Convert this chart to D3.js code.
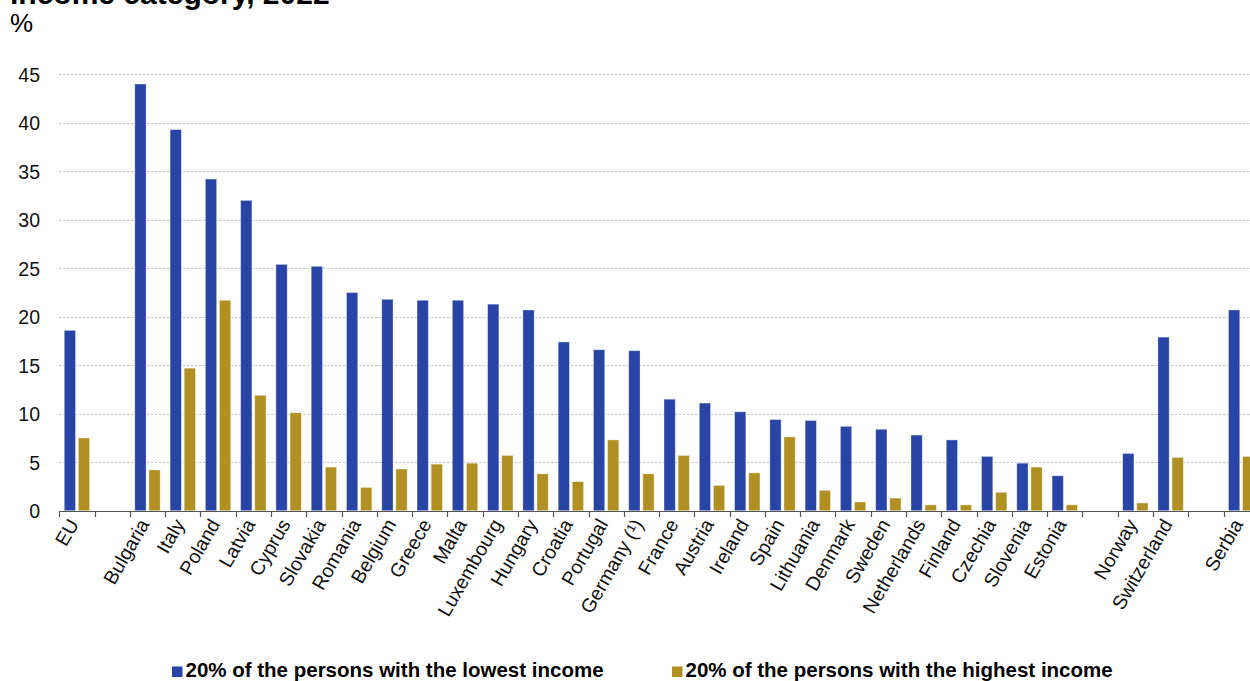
<!DOCTYPE html>
<html>
<head>
<meta charset="utf-8">
<script src="https://cdn.jsdelivr.net/npm/d3@7"></script>
<style>
  html, body { margin: 0; padding: 0; background: #fff; }
  svg { display: block; font-family: "Liberation Sans", Arial, sans-serif; }
</style>
</head>
<body>
<svg id="chart" width="1250" height="681"></svg>
<script>
// Country slots along the x axis; empty strings are spacer slots between groups.
const countries = ["EU", "", "Bulgaria", "Italy", "Poland", "Latvia", "Cyprus", "Slovakia",
  "Romania", "Belgium", "Greece", "Malta", "Luxembourg", "Hungary", "Croatia", "Portugal",
  "Germany (¹)", "France", "Austria", "Ireland", "Spain", "Lithuania", "Denmark", "Sweden",
  "Netherlands", "Finland", "Czechia", "Slovenia", "Estonia", "", "Norway", "Switzerland", "", "Serbia"];

// Share (%) for the lowest income quintile
const lowestIncome = [18.6, null, 44.0, 39.3, 34.2, 32.0, 25.4, 25.2, 22.5, 21.8, 21.7, 21.7,
  21.3, 20.7, 17.4, 16.6, 16.5, 11.5, 11.1, 10.2, 9.4, 9.3, 8.7, 8.4, 7.8, 7.3, 5.6, 4.9, 3.6,
  null, 5.9, 17.9, null, 20.7];

// Share (%) for the highest income quintile
const highestIncome = [7.5, null, 4.2, 14.7, 21.7, 11.9, 10.1, 4.5, 2.4, 4.3, 4.8, 4.9,
  5.7, 3.8, 3.0, 7.3, 3.8, 5.7, 2.6, 3.9, 7.6, 2.1, 0.9, 1.3, 0.6, 0.6, 1.9, 4.5, 0.6,
  null, 0.8, 5.5, null, 5.6];

const seriesNames = ["20% of the persons with the lowest income", "20% of the persons with the highest income"];
const yTicks = [0, 5, 10, 15, 20, 25, 30, 35, 40, 45];

const colors = ["#2845A6", "#B09023"];

const svg = d3.select("#chart");
const W = 1250, H = 681;

const left = 59.3, slotW = 35.28;
const right = left + slotW * countries.length;
const y0 = 510.7, yTop = 74.3;

const x = d3.scaleBand().domain(d3.range(countries.length)).range([left, right]).padding(0);
const xs = d3.scaleBand().domain([0, 1]).range([0, x.bandwidth()]).paddingInner(0.2).paddingOuter(0.35);
const y = d3.scaleLinear().domain([0, 45]).range([y0, yTop]);

// Title (second line) and unit
svg.append("text").attr("x", 10).attr("y", 4)
  .attr("font-size", 30).attr("font-weight", "bold").attr("fill", "#000")
  .text("income category, 2022");
svg.append("text").attr("x", 10).attr("y", 32)
  .attr("font-size", 26).attr("fill", "#000").text("%");

// Horizontal dotted gridlines
svg.append("g").selectAll("line").data(yTicks.filter(d => d > 0)).join("line")
  .attr("x1", left).attr("x2", W)
  .attr("y1", d => Math.round(y(d)) + 0.5).attr("y2", d => Math.round(y(d)) + 0.5)
  .attr("stroke", "#BDBDBD").attr("stroke-width", 1).attr("stroke-dasharray", "2,2");

// Y axis labels
const yAxis = d3.axisLeft(y).tickValues(yTicks).tickSize(0).tickPadding(0);
const gy = svg.append("g").attr("transform", `translate(${40},0)`).call(yAxis);
gy.select(".domain").remove();
gy.selectAll("text").attr("font-size", 19.5).attr("fill", "#111")
  .attr("font-family", "'Liberation Sans', Arial, sans-serif").attr("dy", "0.35em");

// Bars
const seriesData = [lowestIncome, highestIncome];
seriesData.forEach((vals, si) => {
  svg.append("g").selectAll("rect")
    .data(vals.map((v, i) => ({ i, v })).filter(d => d.v !== null))
    .join("rect")
    .attr("x", d => x(d.i) + xs(si))
    .attr("width", xs.bandwidth())
    .attr("y", d => y(d.v))
    .attr("height", d => y(0) - y(d.v))
    .attr("fill", colors[si])
    .attr("stroke", "rgba(255,255,255,0.45)").attr("stroke-width", 0.8);
});

// X axis baseline with boundary ticks
const gx = svg.append("g");
gx.append("line").attr("x1", left).attr("x2", W)
  .attr("y1", Math.round(y0) + 0.5).attr("y2", Math.round(y0) + 0.5)
  .attr("stroke", "#555").attr("stroke-width", 1.2);
gx.selectAll("line.tk").data(d3.range(countries.length + 1)).join("line")
  .attr("class", "tk")
  .attr("x1", i => Math.round(left + i * slotW) + 0.5).attr("x2", i => Math.round(left + i * slotW) + 0.5)
  .attr("y1", Math.round(y0)).attr("y2", Math.round(y0) + 6)
  .attr("stroke", "#555").attr("stroke-width", 1.2);

// Rotated category labels
gx.selectAll("text").data(countries.map((c, i) => ({ c, i })).filter(d => d.c !== "")).join("text")
  .attr("transform", d => `translate(${x(d.i) + x.bandwidth() / 2 + 2.5},${524}) rotate(-60)`)
  .attr("text-anchor", "end")
  .attr("font-size", 19.5).attr("fill", "#111")
  .text(d => d.c);

// Legend
const legend = [
  { name: seriesNames[0], color: colors[0], x: 172 },
  { name: seriesNames[1], color: colors[1], x: 672 }
];
const lg = svg.append("g");
legend.forEach(l => {
  lg.append("rect").attr("x", l.x).attr("y", 666.5).attr("width", 10.5).attr("height", 10.5).attr("fill", l.color);
  lg.append("text").attr("x", l.x + 13.5).attr("y", 677.3)
    .attr("font-size", 20.5).attr("font-weight", "bold").attr("fill", "#000").text(l.name);
});
</script>
</body>
</html>
